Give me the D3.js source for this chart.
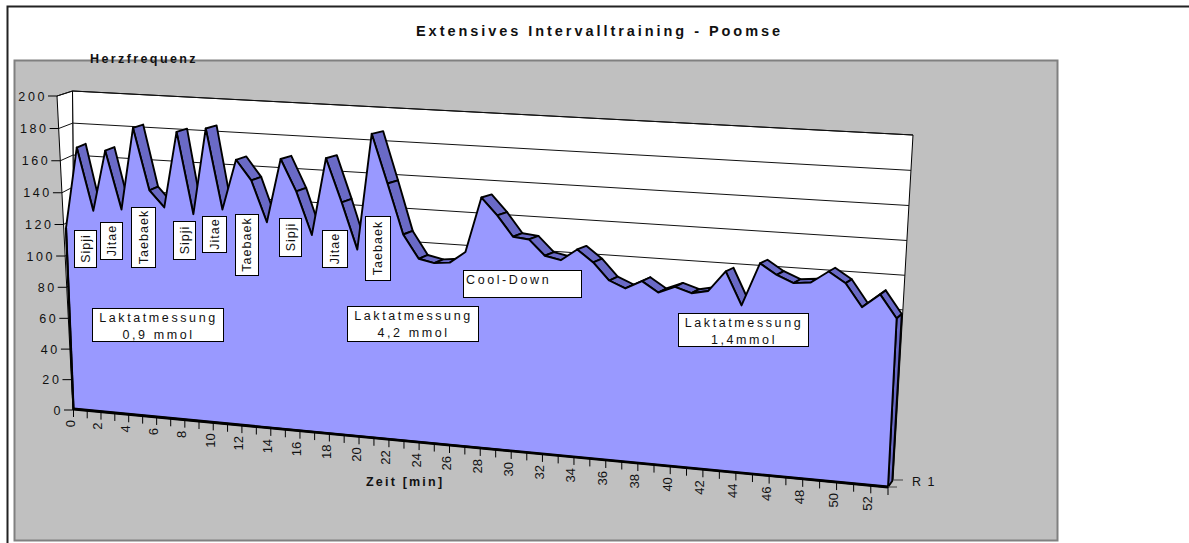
<!DOCTYPE html>
<html>
<head>
<meta charset="utf-8">
<script src="https://d3js.org/d3.v7.min.js"></script>
<style>
  html, body { margin: 0; padding: 0; background: #fff; }
  svg { display: block; }
  text { font-family: "Liberation Sans", Arial, sans-serif; fill: #111; }
</style>
</head>
<body>
<script>
// values
var minutes = [0,1,2,3,4,5,6,7,8,9,10,11,12,13,14,15,16,17,18,19,20,21,22,23,24,25,26,
  27,28,29,30,31,32,33,34,35,36,37,38,39,40,41,42,43,44,45,46,47,48,49,50,51,52,53];
var heartRate = [117,168,129,167,131,182,144,134,181,131,184,135,166,154,129,168,149,123,170,144,116,186,157,127,113,111,112,
  119,152,142,130,129,120,118,125,118,108,104,109,103,107,104,106,118,99,124,118,114,115,122,116,103,111,98];
var rateTicks = [0,20,40,60,80,100,120,140,160,180,200];
var minuteLabels = [0,2,4,6,8,10,12,14,16,18,20,22,24,26,28,30,32,34,36,38,40,42,44,46,48,50,52];
var seriesName = "R 1";
var chartTitle = "Extensives Intervalltraining - Poomse";
var rateTitle = "Herzfrequenz";
var timeTitle = "Zeit [min]";
var poomseNames = ["Sipji","Jitae","Taebaek","Sipji","Jitae","Taebaek","Sipji","Jitae","Taebaek"];
var noteLines = [["Laktatmessung","0,9 mmol"],["Laktatmessung","4,2 mmol"],["Cool-Down"],["Laktatmessung","1,4mmol"]];

// layout, kept apart from the values
var width = 1189, height = 543;
var poomseBoxes = [[74,230,22,37],[100,222,22,37],[131,207,24,60],[173,221,22,38],[202,216,24,36],[235,214,23,61],[279,218,22,38],[322,230,25,37],[365,216,25,64]];
var noteBoxes = [[92,308,131,33],[347,306,131,35],[463,270,118,27],[678,313,130,33]];
var ribbonDepth = 0.85;

// corners of each plane: [bottom left, bottom right, top right, top left]
var frontPlane = [[73.5,409],[888,487],[906,136],[60.5,95]];
var backPlane  = [[75,405],[893,480],[913,135],[72.5,91]];
var axisPlane  = [[73,410],[888,487],[906,136],[57,96]];

var x = d3.scaleLinear().domain([0, 53]).range([0, 1]);
var y = d3.scaleLinear().domain([0, 200]).range([0, 1]);

// homography from the unit square onto a quad
function planeMap(q) {
  var x0=q[0][0],y0=q[0][1],x1=q[1][0],y1=q[1][1],x2=q[2][0],y2=q[2][1],x3=q[3][0],y3=q[3][1];
  var dx1=x1-x2, dx2=x3-x2, sx=x0-x1+x2-x3;
  var dy1=y1-y2, dy2=y3-y2, sy=y0-y1+y2-y3;
  var det=dx1*dy2-dx2*dy1;
  var g=(sx*dy2-dx2*sy)/det, h=(dx1*sy-sx*dy1)/det;
  var a=x1-x0+g*x1, b=x3-x0+h*x3, d=y1-y0+g*y1, e=y3-y0+h*y3;
  return function(t, v) {
    var u=x(t), w=y(v), k=g*u+h*w+1;
    return [(a*u+b*w+x0)/k, (d*u+e*w+y0)/k];
  };
}
var front = planeMap(frontPlane), back = planeMap(backPlane), axisAt = planeMap(axisPlane);

// back edge of the series sits a little in front of the wall
function rear(t, v) {
  var f = front(t, v), b = back(t, v);
  return [f[0]+(b[0]-f[0])*ribbonDepth, f[1]+(b[1]-f[1])*ribbonDepth];
}

var svg = d3.select("body").append("svg").attr("width", width).attr("height", height);
var path = d3.line();

// chart frame
svg.append("path").attr("d", "M7.5,543V6.5H1189").attr("fill", "none").attr("stroke", "#222").attr("stroke-width", 2);

// plot area
svg.append("rect").attr("x", 14.5).attr("y", 60.5).attr("width", 1043).attr("height", 480)
  .attr("fill", "#c0c0c0").attr("stroke", "#808080").attr("stroke-width", 2);

// walls
var walls = svg.append("g");
walls.append("path").attr("d", path(backPlane) + "Z").attr("fill", "#fff").attr("stroke", "#000");
walls.append("path")
  .attr("d", path([axisAt(0,0), back(0,0), back(0,200), axisAt(0,200)]) + "Z")
  .attr("fill", "#fff").attr("stroke", "#000");
rateTicks.forEach(function(v) {
  walls.append("path")
    .attr("d", path([axisAt(0,v), back(0,v), back(53,v)]))
    .attr("fill", "none").attr("stroke", "#111").attr("stroke-width", 1);
});

// ribbon on top of the area, only the parts facing the viewer
var ribbon = svg.append("g").attr("fill", "#6a6ac6").attr("stroke", "#000").attr("stroke-width", 1.9).attr("stroke-linejoin", "round");
minutes.slice(0, -1).forEach(function(t, i) {
  var a = front(t, heartRate[i]), b = front(minutes[i+1], heartRate[i+1]);
  var c = rear(minutes[i+1], heartRate[i+1]), e = rear(t, heartRate[i]);
  var cross = (b[0]-a[0])*(e[1]-a[1]) - (b[1]-a[1])*(e[0]-a[0]);
  if (cross < 0) ribbon.append("path").attr("d", path([a, b, c, e]) + "Z");
});

// right hand side of the area
var last = minutes.length - 1;
svg.append("path")
  .attr("d", path([front(53,0), rear(53,0), rear(53,heartRate[last]), front(53,heartRate[last])]) + "Z")
  .attr("fill", "#6a6ac6").attr("stroke", "#000").attr("stroke-width", 1.9).attr("stroke-linejoin", "round");

// front of the area
var outline = minutes.map(function(t, i) { return front(t, heartRate[i]); });
svg.append("path")
  .attr("d", path([front(0,0)].concat(outline, [front(53,0)])) + "Z")
  .attr("fill", "#9999ff").attr("stroke", "#000").attr("stroke-width", 1.9).attr("stroke-linejoin", "round");
svg.append("path").attr("d", path([front(0,0), front(53,0)])).attr("stroke", "#000").attr("stroke-width", 2.8);
svg.append("path").attr("d", path([front(0,0), front(0,heartRate[0])])).attr("stroke", "#000").attr("stroke-width", 2.2);

// value axis
var yAxis = svg.append("g");
rateTicks.forEach(function(v) {
  var p = axisAt(0, v);
  yAxis.append("line").attr("x1", p[0]-9).attr("x2", p[0]).attr("y1", p[1]).attr("y2", p[1]).attr("stroke", "#000");
  yAxis.append("text").attr("x", p[0]-10).attr("y", p[1]+4.5).attr("text-anchor", "end")
    .attr("font-size", 12.5).attr("letter-spacing", 2.6).text(v);
});

// time axis
var xAxis = svg.append("g");
minutes.forEach(function(t) {
  var p = front(t, 0);
  xAxis.append("line").attr("x1", p[0]).attr("x2", p[0]).attr("y1", p[1]).attr("y2", p[1]+8).attr("stroke", "#000");
});
minuteLabels.forEach(function(t) {
  var p = front(t, 0);
  xAxis.append("text").attr("text-anchor", "end")
    .attr("transform", "translate(" + (p[0]+1.5) + "," + (p[1]+11) + ") rotate(-90)")
    .attr("font-size", 13).text(t);
});

// depth axis
var f0 = front(53,0), b0 = back(53,0);
svg.append("line").attr("x1", f0[0]).attr("x2", f0[0]+9).attr("y1", f0[1]).attr("y2", f0[1]).attr("stroke", "#444");
svg.append("line").attr("x1", b0[0]).attr("x2", b0[0]+10).attr("y1", b0[1]).attr("y2", b0[1]).attr("stroke", "#444");
svg.append("text").attr("x", 912).attr("y", 486).attr("font-size", 12.5).attr("letter-spacing", 1.5).text(seriesName);

// titles
svg.append("text").attr("x", 416).attr("y", 36).attr("font-size", 14.5).attr("font-weight", "bold").attr("letter-spacing", 2.95).text(chartTitle);
svg.append("text").attr("x", 90).attr("y", 63).attr("font-size", 12.5).attr("font-weight", "bold").attr("letter-spacing", 2.4).text(rateTitle);
svg.append("text").attr("x", 366).attr("y", 486).attr("font-size", 12.5).attr("font-weight", "bold").attr("letter-spacing", 2.2).text(timeTitle);

// poomse labels
poomseNames.forEach(function(name, i) {
  var b = poomseBoxes[i];
  svg.append("rect").attr("x", b[0]+.5).attr("y", b[1]+.5).attr("width", b[2]).attr("height", b[3]).attr("fill", "#fff").attr("stroke", "#000");
  svg.append("text").attr("text-anchor", "middle")
    .attr("transform", "translate(" + (b[0]+b[2]/2+4.5) + "," + (b[1]+b[3]/2) + ") rotate(-90)")
    .attr("font-size", 12.5).attr("letter-spacing", 1).text(name);
});

// notes
noteLines.forEach(function(lines, i) {
  var b = noteBoxes[i];
  svg.append("rect").attr("x", b[0]+.5).attr("y", b[1]+.5).attr("width", b[2]).attr("height", b[3]).attr("fill", "#fff").attr("stroke", "#000");
  lines.forEach(function(line, j) {
    var single = lines.length == 1;
    svg.append("text")
      .attr("x", single ? b[0]+3 : b[0]+b[2]/2+1)
      .attr("y", b[1]+13.5+j*17)
      .attr("text-anchor", single ? "start" : "middle")
      .attr("font-size", 12.5).attr("letter-spacing", 2.6).text(line);
  });
});
</script>
</body>
</html>
